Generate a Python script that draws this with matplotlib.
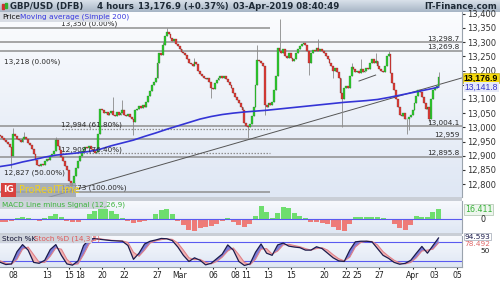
import numpy as np
import matplotlib
matplotlib.use("Agg")
import matplotlib.pyplot as plt
from matplotlib.colors import LinearSegmentedColormap
from matplotlib.patches import Rectangle
import matplotlib.transforms as mtransforms

# ---- data: 4h bars, bar 0 = first bar of 08 Feb ----
first_bar = -7
first_open = 12972
closes = [
    12968, 12962, 12955, 12948, 12940, 12930, 12898,
    12975,
    12968, 12960, 12955, 12950, 12958, 12965, 12958, 12945, 12938, 12925,
    12905, 12885, 12868, 12864, 12870, 12866, 12882, 12888, 12885, 12898,
    12905, 12915, 12955, 12935, 12920, 12895, 12880, 12862, 12850, 12810,
    12795, 12805, 12830, 12858, 12880, 12900, 12915, 12925, 12932, 12928,
    12935, 12925, 12915, 12910, 12912, 12975, 13065, 13060, 13050, 13055,
    13045, 13052, 13058, 13045, 13040, 13055, 13042, 13050, 13060, 13045,
    13040, 13048, 13038, 13030, 13020, 13060, 13065, 13075, 13068, 13080,
    13072, 13090, 13110, 13128, 13150, 13158, 13175, 13225, 13262, 13255,
    13290, 13320, 13336, 13328, 13315, 13305, 13310, 13295, 13285, 13275,
    13265, 13262, 13255, 13240, 13228, 13222, 13215, 13230, 13222, 13200,
    13188, 13180, 13172, 13170, 13175, 13160, 13140, 13135, 13155, 13168,
    13175, 13180, 13172, 13182, 13170, 13160, 13150, 13140, 13120, 13105,
    13095, 13085, 13070, 13060, 13015, 13005, 13000, 13010, 13040, 13070,
    13150, 13238, 13235, 13228, 13215, 13080, 13072, 13085, 13078, 13090,
    13130, 13180, 13280, 13270, 13262, 13275, 13250, 13245, 13260, 13245,
    13232, 13240, 13262, 13275, 13285, 13292, 13296, 13290, 13270, 13225,
    13260, 13272, 13268, 13278, 13270, 13275, 13268, 13262, 13250, 13240,
    13225, 13215, 13200, 13210, 13195, 13175, 13120, 13100, 13140, 13145,
    13138, 13180, 13212, 13205, 13195, 13200, 13190, 13205, 13195, 13200,
    13210, 13205, 13225, 13240, 13225, 13235, 13215, 13205, 13198, 13195,
    13215, 13250, 13258, 13190, 13155, 13130, 13100, 13070, 13045, 13040,
    13050, 13028, 13030, 13035, 13045, 13060, 13085, 13110, 13130, 13125,
    13105, 13085, 13065, 13070, 13030, 13100, 13130, 13140, 13145, 13177,
]
wick_hi = {0: 12997, 6: 12985, 23: 12965, 54: 13108, 59: 13096, 81: 13300,
           83: 13350, 98: 13245, 132: 13290, 144: 13380, 165: 13310,
           183: 13225, 188: 13240, 196: 13262, 203: 13270, 230: 13195}
wick_lo = {-1: 12857, 31: 12775, 65: 12973, 107: 13102, 127: 12962,
           136: 13043, 160: 13184, 173: 13175, 178: 13002, 213: 12978,
           214: 12990, 225: 13018}

ma_bars = [-7, -1, 5, 11, 17, 23, 29, 35, 41, 47, 53, 59, 65, 71, 77, 83, 89,
           95, 101, 107, 113, 119, 125, 131, 137, 143, 149, 155, 161, 167,
           173, 179, 185, 191, 197, 203, 209, 215, 221, 227, 230]
ma_vals = [12862, 12868, 12878, 12886, 12895, 12902, 12906, 12910, 12915,
           12923, 12935, 12945, 12955, 12968, 12980, 12993, 13005, 13017,
           13029, 13038, 13045, 13050, 13054, 13057, 13060, 13064, 13068,
           13072, 13076, 13080, 13084, 13088, 13091, 13094, 13098, 13105,
           13113, 13121, 13129, 13137, 13141.8]

# indicators sampled every 3 bars, from bar -7 to bar 230
ind_bars = list(range(-7, 231, 3))
macd_hist = [-4, -5, -3, 2, 4, 2, -1, -2, 2, 6, 9, 4, -2, -5, -4, -1, 8, 14,
             18, 17, 14, 8, 2, -2, -6, -5, -2, 1, 8, 15, 17, 8, -2, -10, -17,
             -19, -15, -12, -11, -8, -3, 2, -4, -9, -12, -8, 6, 22, 12, 2, 10,
             20, 18, 10, 5, 2, -4, -5, -6, -8, -12, -17, -19, -8, 3, 4, 4, 3,
             3, 2, 0, -8, -15, -17, -10, 6, 4, 3, 12, 16.411]
stoch_k = [15, 8, 10, 50, 73, 55, 15, 12, 22, 57, 73, 38, 10, 6, 20, 70, 90,
           93, 90, 88, 86, 85, 84, 70, 25, 45, 75, 84, 88, 93, 92, 86, 65, 38,
           18, 30, 22, 7, 12, 27, 42, 72, 55, 18, 5, 10, 48, 75, 45, 38, 72,
           78, 68, 65, 63, 55, 55, 66, 60, 45, 30, 20, 18, 55, 82, 84, 84, 82,
           60, 38, 28, 15, 9, 12, 22, 45, 67, 45, 70, 94.593]
stoch_d = [20, 12, 9, 25, 58, 65, 40, 15, 15, 35, 62, 58, 25, 8, 10, 40, 75,
           90, 92, 89, 87, 86, 85, 80, 48, 35, 55, 78, 85, 89, 92, 90, 78, 55,
           30, 24, 25, 15, 10, 18, 32, 52, 62, 40, 15, 7, 25, 58, 60, 42, 52,
           72, 74, 70, 66, 60, 55, 60, 63, 55, 40, 27, 20, 32, 65, 80, 84, 83,
           72, 50, 35, 22, 13, 10, 15, 30, 52, 55, 58, 78.492]

tick_bars = [0, 18, 30, 36, 48, 60, 78, 90, 108, 120, 126, 138, 150, 168, 180,
             186, 198, 216, 228, 240]
tick_labels = ["08", "13", "15", "18", "20", "22", "27", "Mar", "06", "08",
               "11", "13", "15", "20", "22", "25", "27", "Apr", "03", "05"]
price_ticks = list(range(12800, 13401, 50))
hidden_tick = 13150  # covered by the last-price box

levels = [13298.7, 13269.8, 13004.1, 12959, 12895.8]
level_text = ["13,298.7", "13,269.8", "13,004.1", "12,959", "12,895.8"]
fib_solid = [13350, 12773]
fib_dotted = [12994, 12909]
fib_labels = [(26, 13350, "13,350 (0.00%)"), (-5, 13218, "13,218 (0.00%)"),
              (26, 12994, "12,994 (61.80%)"), (26, 12909, "12,909 (76.40%)"),
              (-5, 12827, "12,827 (50.00%)"), (26, 12773, "12,773 (100.00%)")]
trend_main = ([14, 242.7], [12744, 13174])
trend_small = ([187, 196], [13163, 13184])

# ---- figure ----
W, H = 500, 281
fig = plt.figure(figsize=(5, 2.81), dpi=100)
fig.patch.set_facecolor("white")


def px_axes(x0, y0, x1, y1):
    return fig.add_axes([x0 / W, 1 - y1 / H, (x1 - x0) / W, (y1 - y0) / H])


def gradient(ax, top, bottom):
    cm = LinearSegmentedColormap.from_list("g", [bottom, top])
    ax.imshow(np.linspace(0, 1, 50).reshape(-1, 1), cmap=cm, origin="lower",
              extent=(0, 1, 0, 1), transform=ax.transAxes, aspect="auto",
              zorder=0)


def fig_box(x0, y0, x1, y1, **kw):
    fig.patches.append(Rectangle((x0 / W, 1 - y1 / H), (x1 - x0) / W,
                                 (y1 - y0) / H, transform=fig.transFigure,
                                 ec="none", **kw))


XMIN, XMAX = -7.2, 242.7
bars = np.arange(first_bar, first_bar + len(closes))
c = np.array(closes, dtype=float)
o = np.concatenate([[first_open], c[:-1]])

# title bar
tb = px_axes(0, 0, 500, 12)
gradient(tb, "#d9e1ea", "#a7b5c5")
tb.set_xlim(0, 500)
tb.set_ylim(12, 0)
tb.axis("off")
tb.add_patch(Rectangle((2, 4), 2.2, 5, color="#d03030"))
tb.add_patch(Rectangle((5, 3), 2.2, 5, color="#30b030"))
for x, s in [(10, "GBP/USD (DFB)"), (97, "4 hours"),
             (138, "13,176.9 (+0.37%)"), (233, "03-Apr-2019 08:40:49")]:
    tb.text(x, 6.3, s, fontsize=6.2, fontweight="bold", color="#1e2a36",
            va="center")
tb.text(497, 6.3, "IT-Finance.com", fontsize=6.2, fontweight="bold",
        color="#1e2a36", va="center", ha="right")

# ---- price panel ----
ax = px_axes(0, 12, 462, 197)
gradient(ax, "#fbfcfe", "#dfe7f4")
for v in levels:
    ax.axhline(v, color="#8f8f8f", lw=1.1, zorder=1)
for v in fib_solid:
    ax.hlines(v, XMIN, 139, color="#8f8f8f", lw=1.1, zorder=1)
for v in fib_dotted:
    ax.hlines(v, 26.5, 139, color="#8f8f8f", lw=0.9, linestyles=(0, (1.2, 1.2)),
              zorder=1)
ax.plot(*trend_main, color="#555555", lw=0.7, zorder=2)
ax.plot(*trend_small, color="#555555", lw=0.7, zorder=2)

hi = np.maximum(o, c)
lo = np.minimum(o, c)
for b, v in wick_hi.items():
    hi[b - first_bar] = v
for b, v in wick_lo.items():
    lo[b - first_bar] = v
ax.vlines(bars, lo, hi, color="#8a8a8a", lw=0.6, zorder=2)
up = c >= o
ax.bar(bars[up], (c - o)[up], bottom=o[up], width=1.0, color="#2fc92f",
       edgecolor="#207a20", linewidth=0.2, zorder=3)
ax.bar(bars[~up], (o - c)[~up], bottom=c[~up], width=1.0, color="#de3e38",
       edgecolor="#7a2020", linewidth=0.2, zorder=3)
ax.plot(ma_bars, ma_vals, color="#3434d6", lw=1.2, zorder=4)

for b, v, s in fib_labels:
    ax.text(b, v + 2, s, fontsize=5.2, color="#2a2a2a", va="bottom", zorder=5)
for v, s in zip(levels, level_text):
    ax.text(241.5, v + 2, s, fontsize=5.2, color="#2a2a2a", ha="right",
            va="bottom", zorder=5)

ax.set_xlim(XMIN, XMAX)
ax.set_ylim(12754.6, 13406)
ax.yaxis.tick_right()
ax.set_yticks(price_ticks)
ax.set_yticklabels(["" if t == hidden_tick else f"{t:,}" for t in price_ticks])
ax.tick_params(axis="y", labelsize=6, colors="#333333", length=2, pad=2)
ax.set_xticks([])
for side in ["top", "left", "bottom"]:
    ax.spines[side].set_visible(False)
ax.spines["right"].set_color("#9aa3ad")

blend = mtransforms.blended_transform_factory(ax.transAxes, ax.transData)
ax.text(1.004, 13174, "13,176.9", transform=blend, fontsize=6.3,
        family="Liberation Sans", fontweight="bold", color="black",
        va="center", zorder=6,
        bbox=dict(boxstyle="square,pad=0.05", fc="#f4d90c", ec="#b49a00",
                  lw=0.4))
ax.text(1.006, 13141.8, "13,141.8", transform=blend, fontsize=6.2,
        family="Liberation Sans", color="#3535d0", va="center", zorder=6,
        bbox=dict(boxstyle="square,pad=0.05", fc="#e6e9f7", ec="none"))

# header line of price panel
fig_box(0, 12, 110, 21.5, fc="#d9dde5", zorder=5)
fig.text(2 / W, 1 - 17 / H, "Price", fontsize=5.3, color="#111111",
         va="center", zorder=6)
fig.text(20 / W, 1 - 17 / H, "Moving average (Simple 200)", fontsize=5.3,
         color="#3838e0", va="center", zorder=6)

# ProRealTime badge
fig_box(1, 183, 16, 197, fc="#d8413f", zorder=5)
fig_box(16, 183, 76, 197, fc="#9ba2ab", alpha=0.8, zorder=5)
fig.text(8.5 / W, 1 - 190 / H, "IG", fontsize=6.5, fontweight="bold",
         color="white", ha="center", va="center", zorder=6)
fig.text(19 / W, 1 - 190 / H, "ProRealTime", fontsize=7, color="#f3d21a",
         va="center", zorder=6)

# separators
fig_box(0, 197, 462, 201, fc="#c9ced6", zorder=1)
fig_box(0, 233, 462, 236, fc="#c9ced6", zorder=1)

# ---- MACD panel ----
am = px_axes(0, 201, 462, 233)
gradient(am, "#f7f9fd", "#dfe7f4")
mh = np.array(macd_hist, dtype=float)
ib = np.array(ind_bars)
am.bar(ib[mh >= 0], mh[mh >= 0], width=2.7, color="#6ede6e", zorder=2)
am.bar(ib[mh < 0], mh[mh < 0], width=2.7, color="#ee7b78", zorder=2)
am.axhline(0, color="#5a5af0", lw=0.8, zorder=3)
am.set_xlim(XMIN, XMAX)
am.set_ylim(-22.5, 30)
am.set_xticks([])
am.set_yticks([])
for side in ["top", "left", "bottom"]:
    am.spines[side].set_visible(False)
am.spines["right"].set_color("#9aa3ad")
blend_m = mtransforms.blended_transform_factory(am.transAxes, am.transData)
am.text(1.006, 16.411, "16.411", transform=blend_m, fontsize=5.8,
        color="#39b239", va="center",
        bbox=dict(boxstyle="square,pad=0.1", fc="#eef6ee", ec="#9ab39a",
                  lw=0.4))
am.text(1.04, 0, "0", transform=blend_m, fontsize=5.8, color="#222222",
        va="center")
fig_box(0, 201, 107, 209, fc="#cfd4dc", zorder=5)
fig.text(2 / W, 1 - 205 / H, "MACD Line minus Signal (12,26,9)", fontsize=5.2,
         color="#3cb43c", va="center", zorder=6)

# ---- Stochastic panel ----
ast = px_axes(0, 236, 462, 267)
gradient(ast, "#f7f9fd", "#dfe7f4")
k = np.array(stoch_k, dtype=float)
d = np.array(stoch_d, dtype=float)
ast.fill_between(ib, k, d, where=k >= d, interpolate=True, color="#7c7cd8",
                 lw=0, zorder=2)
ast.fill_between(ib, k, d, where=k < d, interpolate=True, color="#f2b4b4",
                 lw=0, zorder=2)
ast.plot(ib, d, color="#e08088", lw=0.8, zorder=3)
ast.plot(ib, k, color="#1c1c4c", lw=0.9, zorder=4)
ast.axhline(80, color="#5a5af0", lw=0.8, zorder=1)
ast.axhline(20, color="#5a5af0", lw=0.8, zorder=1)
ast.set_xlim(XMIN, XMAX)
ast.set_ylim(0, 101)
ast.set_yticks([])
ast.set_xticks(tick_bars)
ast.set_xticklabels(tick_labels)
ast.tick_params(axis="x", labelsize=5.6, colors="#222222", length=1.5, pad=1.5)
for side in ["top", "left"]:
    ast.spines[side].set_visible(False)
ast.spines["right"].set_color("#9aa3ad")
ast.spines["bottom"].set_color("#9aa3ad")
blend_s = mtransforms.blended_transform_factory(ast.transAxes, ast.transData)
ast.text(1.006, 98, "94.593", transform=blend_s, fontsize=5.3,
         color="#1c1c4c", va="center",
         bbox=dict(boxstyle="square,pad=0.06", fc="white", ec="#8890a0",
                   lw=0.4))
ast.text(1.006, 74, "78.492", transform=blend_s, fontsize=5.3,
         color="#e06a6a", va="center")
ast.text(1.04, 52, "50", transform=blend_s, fontsize=5.3, color="#222222",
         va="center")
fig_box(0, 235, 92, 243, fc="#cfd4dc", zorder=5)
fig.text(2 / W, 1 - 239 / H, "Stoch %K", fontsize=5.2, color="#111133",
         va="center", zorder=6)
fig.text(34 / W, 1 - 239 / H, "Stoch %D (14,3,5)", fontsize=5.2,
         color="#e05858", va="center", zorder=6)

assert len(closes) == 238 and len(macd_hist) == len(ind_bars)
fig.savefig("out.png", dpi=100)
